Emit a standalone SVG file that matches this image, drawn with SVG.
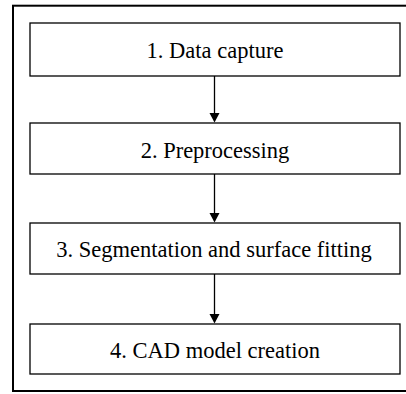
<svg xmlns="http://www.w3.org/2000/svg" width="406" height="394" viewBox="0 0 406 394">
<style>
.box{fill:#fff;stroke:#000;stroke-width:1.3}
.lbl{font-size:22.5px;fill:#000;text-anchor:middle}
.con{stroke:#000;stroke-width:1.3;fill:none}
.ah{fill:#000}
</style>
<rect x="0" y="0" width="406" height="394" fill="#fff"/>
<rect id="frame" x="13" y="5.7" width="400" height="385.3" fill="none" stroke="#000" stroke-width="2"/>
<g font-family="'Liberation Serif', 'Times New Roman', serif">
<g id="n1"><rect class="box" x="30" y="23" width="370" height="53"/><text class="lbl" x="215" y="58.3">1. Data capture</text></g>
<g id="n2"><rect class="box" x="30" y="123" width="370" height="51"/><text class="lbl" x="215" y="158.3">2. Preprocessing</text></g>
<g id="n3"><rect class="box" x="30" y="223" width="370" height="51"/><text class="lbl" x="214" y="257.3">3. Segmentation and surface fitting</text></g>
<g id="n4"><rect class="box" x="30" y="324" width="370" height="50"/><text class="lbl" x="215" y="358.3">4. CAD model creation</text></g>
</g>
<g id="connectors">
<line class="con" x1="214.5" y1="76" x2="214.5" y2="113"/><path class="ah" d="M209.5,113 L219.5,113 L214.5,122.5 Z"/>
<line class="con" x1="214.5" y1="174" x2="214.5" y2="213"/><path class="ah" d="M209.5,213 L219.5,213 L214.5,222.5 Z"/>
<line class="con" x1="214.5" y1="274" x2="214.5" y2="314"/><path class="ah" d="M209.5,314 L219.5,314 L214.5,323.5 Z"/>
</g>
</svg>
